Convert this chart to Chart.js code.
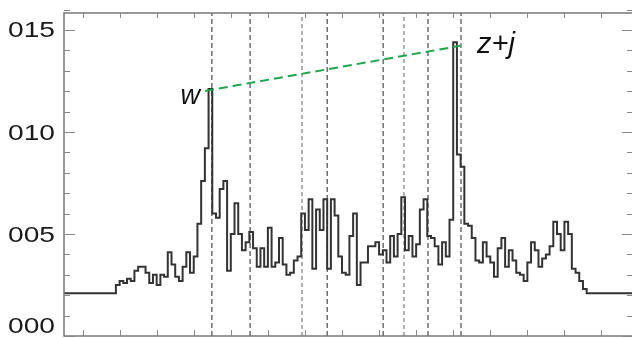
<!DOCTYPE html>
<html>
<head>
<meta charset="utf-8">
<script src="https://cdn.jsdelivr.net/npm/chart.js@4/dist/chart.umd.min.js"></script>
<style>
  html, body { margin: 0; padding: 0; background: #fff; overflow: hidden; width: 632px; height: 339px; }
  canvas { display: block; }
</style>
</head>
<body>
<canvas id="c" width="640" height="339" style="width:640px;height:339px"></canvas>
<script>
// ---- data ----
const binStart = 0;          // first bin index
const binWidth = 1;          // bin width in channel units
const flux = [
  0.0021,0.0021,0.0021,0.0021,0.0021,0.0021,0.0021,0.0021,0.0021,0.0021,0.0021,0.0021,0.0021,0.0021,
  0.0025,0.0027,0.0026,0.0028,0.0027,0.0032,0.0034,0.0034,0.0031,0.0026,
  0.0030,0.0025,0.0030,0.0029,0.0041,0.0035,0.0029,0.0027,0.0034,0.0041,
  0.0031,0.0039,0.0055,0.0076,0.0092,0.0121,0.0060,0.0058,0.0072,0.0076,
  0.0032,0.0050,0.0065,0.0050,0.0042,0.0046,0.0051,0.0043,0.0034,0.0043,
  0.0034,0.0053,0.0034,0.0036,0.0048,0.0035,0.0030,0.0031,0.0037,0.0039,
  0.0060,0.0052,0.0067,0.0033,0.0062,0.0052,0.0067,0.0033,0.0067,0.0059,
  0.0039,0.0031,0.0030,0.0049,0.0060,0.0025,0.0036,0.0036,0.0044,0.0044,
  0.0046,0.0040,0.0042,0.0036,0.0049,0.0039,0.0050,0.0068,0.0042,0.0049,
  0.0039,0.0045,0.0062,0.0067,0.0049,0.0048,0.0044,0.0035,0.0046,0.0039,
  0.0057,0.0144,0.0089,0.0083,0.0055,0.0054,0.0048,0.0037,0.0036,0.0046,
  0.0039,0.0036,0.0029,0.0043,0.0048,0.0034,0.0042,0.0037,0.0031,0.0030,
  0.0027,0.0036,0.0046,0.0042,0.0034,0.0038,0.0040,0.0044,0.0056,0.0050,
  0.0042,0.0056,0.0050,0.0033,0.0031,0.0027,0.0023,
  0.0021,0.0021,0.0021,0.0021,0.0021,0.0021,0.0021,0.0021,0.0021,0.0021,0.0021,0.0021,0.0021
];
const yTickValues = [0, 0.005, 0.010, 0.015];
const yTickLabels = ['000', '005', '010', '015'];
const yMinorStep = 0.001;
const xTickValues = [5, 15, 25, 35, 45, 55, 65, 75, 85, 95, 105, 115, 125, 135, 145];
const markerX = [39.9, 50.2, 64.2, 71.0, 86.1, 91.7, 98.2, 107.1];
const lightMarkers = [2, 5];   // indexes of the paler dashed markers
const linkPoints = [{x: 38.05, y: 0.01201}, {x: 106.85, y: 0.01422}];
const linkLabels = ['w', 'z+j'];
const xMax = 153.5, yMax = 0.01583;

// ---- build datasets ----
const stepData = flux.map((v, i) => ({x: binStart + i * binWidth, y: v}));
stepData.push({x: binStart + flux.length * binWidth, y: flux[flux.length - 1]});

const datasets = [];
markerX.forEach((mx, i) => {
  const light = lightMarkers.includes(i);
  datasets.push({
    data: [{x: mx, y: 0}, {x: mx, y: yMax}],
    borderColor: light ? '#b0b0b0' : '#4a4a4a',
    borderWidth: light ? 2 : 1.2,
    borderDash: light ? [4, 3] : [5, 3],
    pointRadius: 0, fill: false, order: 2
  });
});
datasets.push({
  data: stepData, stepped: true,
  borderColor: '#333333', borderWidth: 2,
  pointRadius: 0, fill: false, order: 1
});
datasets.push({
  data: linkPoints,
  borderColor: '#1ea64c', borderWidth: 2, borderDash: [9, 5],
  pointRadius: 0, fill: false, order: 0
});

const framePlugin = {
  id: 'frame',
  afterDraw(chart) {
    const {ctx, chartArea: a, scales: {x, y}} = chart;
    ctx.save();
    // frame
    ctx.strokeStyle = '#777';
    ctx.lineWidth = 1.5;
    ctx.strokeRect(a.left, a.top, a.right - a.left, a.bottom - a.top);
    // y ticks (inward, both sides)
    ctx.strokeStyle = '#888';
    ctx.lineWidth = 1;
    const nMinor = Math.round(yMax / yMinorStep);
    for (let k = 0; k <= nMinor; k++) {
      const v = k * yMinorStep;
      const py = Math.round(y.getPixelForValue(v)) + 0.5;
      const major = yTickValues.some(t => Math.abs(t - v) < 1e-9);
      const len = major ? 11 : 6;
      ctx.beginPath();
      ctx.moveTo(a.left, py); ctx.lineTo(a.left + len, py);
      ctx.moveTo(a.right, py); ctx.lineTo(a.right - len, py);
      ctx.stroke();
    }
    // x ticks (inward, top and bottom)
    xTickValues.forEach(v => {
      const px = Math.round(x.getPixelForValue(v)) + 0.5;
      ctx.beginPath();
      ctx.moveTo(px, a.top); ctx.lineTo(px, a.top + 5);
      ctx.moveTo(px, a.bottom); ctx.lineTo(px, a.bottom - 6);
      ctx.stroke();
    });
    // y labels
    ctx.fillStyle = '#1a1a1a';
    ctx.font = '22px "Liberation Sans", Arial, sans-serif';
    ctx.textAlign = 'right';
    ctx.textBaseline = 'middle';
    yTickValues.forEach((v, i) => {
      const py = Math.min(y.getPixelForValue(v) + 1.5, 327);
      ctx.save();
      ctx.translate(55, py);
      ctx.scale(1.28, 1);
      ctx.fillText(yTickLabels[i], 0, 0);
      ctx.restore();
    });
    // link labels
    ctx.fillStyle = '#111';
    ctx.textBaseline = 'alphabetic';
    const p0x = x.getPixelForValue(linkPoints[0].x), p0y = y.getPixelForValue(linkPoints[0].y);
    const p1x = x.getPixelForValue(linkPoints[1].x), p1y = y.getPixelForValue(linkPoints[1].y);
    ctx.font = 'italic 27px "Liberation Sans", Arial, sans-serif';
    ctx.textAlign = 'right';
    ctx.fillText(linkLabels[0], p0x - 5, p0y + 13);
    ctx.font = 'italic 29px "Liberation Sans", Arial, sans-serif';
    ctx.textAlign = 'left';
    ctx.fillText(linkLabels[1], p1x + 17, p1y + 7);
    ctx.restore();
  }
};

new Chart(document.getElementById('c'), {
  type: 'line',
  data: {datasets},
  options: {
    responsive: false,
    animation: false,
    layout: {padding: {left: 64, top: 13, right: 7, bottom: 3}},
    plugins: {legend: {display: false}, tooltip: {enabled: false}},
    scales: {
      x: {type: 'linear', min: 0, max: xMax, display: false},
      y: {type: 'linear', min: 0, max: yMax, display: false}
    }
  },
  plugins: [framePlugin]
});
</script>
</body>
</html>
